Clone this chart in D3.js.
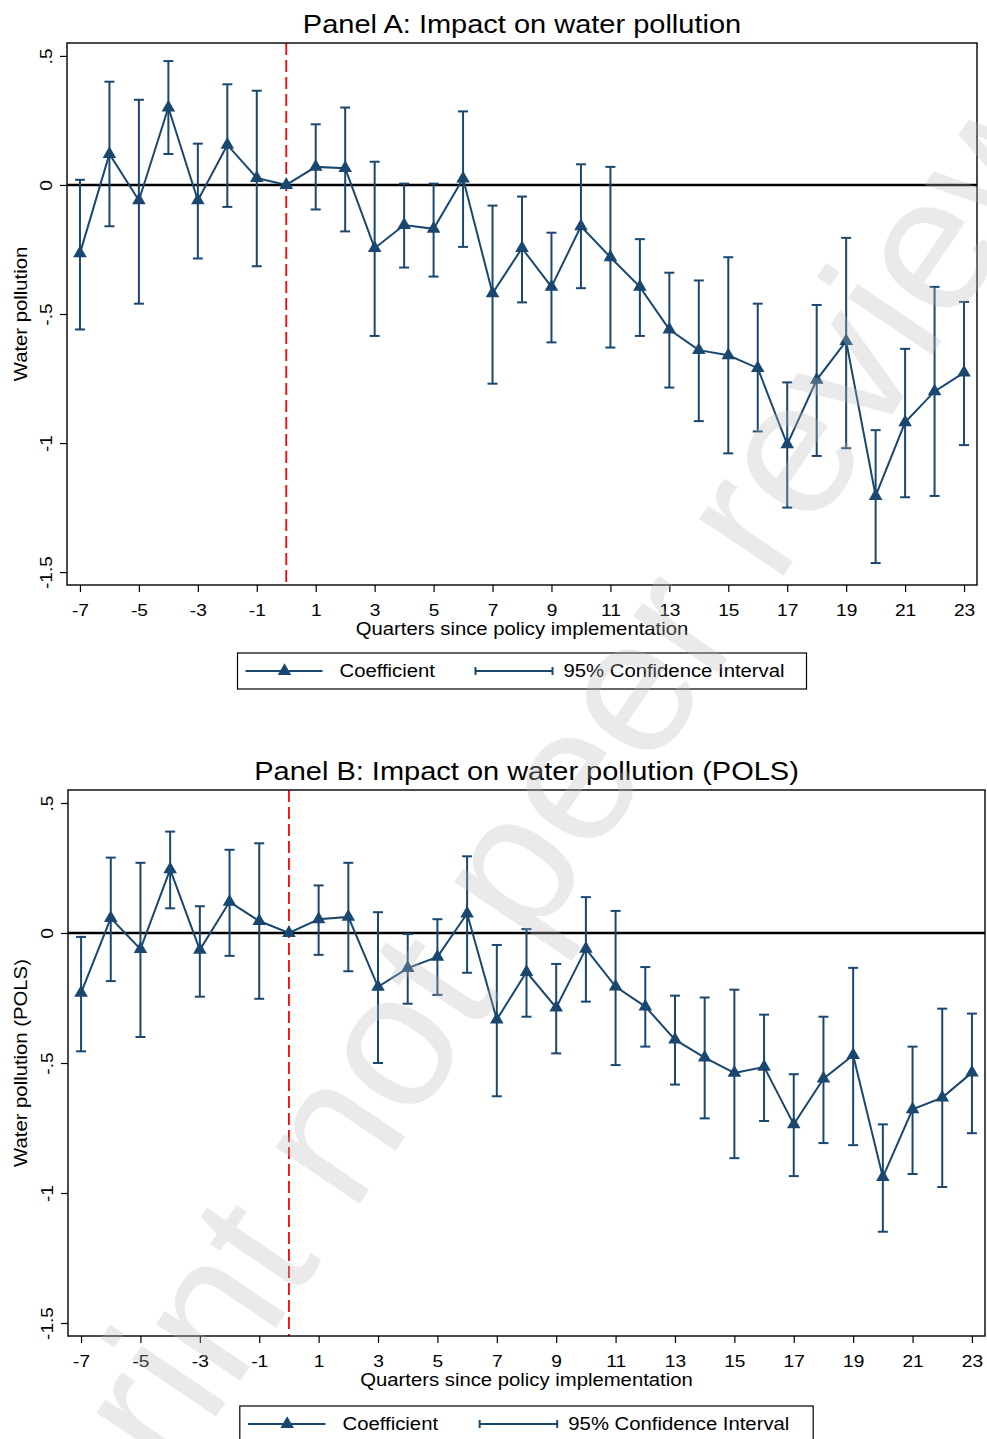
<!DOCTYPE html>
<html><head><meta charset="utf-8">
<script src="https://cdn.jsdelivr.net/npm/d3@7"></script>
<style>
html,body{margin:0;padding:0;background:#fff;}
svg{display:block;font-family:"Liberation Sans",Arial,Helvetica,sans-serif;}
</style>
</head><body>
<svg id="chart" width="987" height="1439"></svg>
<script>
// ---------- data ----------
const quarters = [-7,-6,-5,-4,-3,-2,-1,0,1,2,3,4,5,6,7,8,9,10,11,12,13,14,15,16,17,18,19,20,21,22,23];

// Panel A
const coefA = [-0.265,0.12,-0.06,0.30,-0.06,0.155,0.027,0,0.07,0.065,-0.245,-0.155,-0.17,0.025,-0.42,-0.245,-0.395,-0.16,-0.28,-0.395,-0.56,-0.64,-0.66,-0.71,-1.005,-0.755,-0.605,-1.205,-0.92,-0.80,-0.727];
const loA   = [-0.56,-0.16,-0.46,0.12,-0.285,-0.085,-0.315,null,-0.095,-0.18,-0.585,-0.32,-0.355,-0.24,-0.77,-0.455,-0.61,-0.40,-0.63,-0.585,-0.785,-0.915,-1.04,-0.955,-1.25,-1.05,-1.02,-1.465,-1.21,-1.205,-1.008];
const hiA   = [0.02,0.40,0.33,0.48,0.16,0.39,0.365,null,0.235,0.30,0.09,0.005,0.005,0.285,-0.08,-0.045,-0.185,0.08,0.07,-0.21,-0.34,-0.37,-0.28,-0.46,-0.765,-0.465,-0.205,-0.95,-0.635,-0.395,-0.453];

// Panel B (POLS)
const coefB = [-0.23,0.057,-0.062,0.245,-0.065,0.12,0.046,0,0.053,0.062,-0.207,-0.135,-0.092,0.075,-0.333,-0.15,-0.287,-0.061,-0.206,-0.283,-0.41,-0.479,-0.538,-0.515,-0.736,-0.56,-0.47,-0.939,-0.678,-0.633,-0.537];
const loB   = [-0.455,-0.185,-0.40,0.095,-0.245,-0.088,-0.253,null,-0.084,-0.147,-0.50,-0.272,-0.238,-0.153,-0.628,-0.322,-0.463,-0.264,-0.508,-0.437,-0.583,-0.713,-0.866,-0.723,-0.935,-0.808,-0.816,-1.149,-0.927,-0.977,-0.77];
const hiB   = [-0.015,0.29,0.27,0.39,0.103,0.32,0.345,null,0.183,0.27,0.08,-0.004,0.053,0.295,-0.046,0.015,-0.119,0.138,0.085,-0.131,-0.241,-0.248,-0.218,-0.314,-0.543,-0.322,-0.134,-0.736,-0.437,-0.291,-0.31];

const xTickValues = [-7,-5,-3,-1,1,3,5,7,9,11,13,15,17,19,21,23];
const yTickValues = [0.5,0,-0.5,-1,-1.5];
const yTickLabels = [".5","0","-.5","-1","-1.5"];
const legendLabels = ["Coefficient","95% Confidence Interval"];
const panelTitles = ["Panel A: Impact on water pollution","Panel B: Impact on water pollution (POLS)"];
const yTitles = ["Water pollution","Water pollution (POLS)"];
const xTitle = "Quarters since policy implementation";
const watermarkText = "Preprint not peer reviewed";

// ---------- style / layout ----------
const NAVY = "#1a476f";
const SX = 1.16; // horizontal glyph stretch of the original rendering
const xDomain = [-7.44, 23.44];
const yDomain = [-1.55, 0.55];

const panels = [
  {left:67, right:977, top:43, bottom:585, coef:coefA, lo:loA, hi:hiA, title:panelTitles[0], ytitle:yTitles[0], legendTop:653},
  {left:68, right:985, top:790, bottom:1336, coef:coefB, lo:loB, hi:hiB, title:panelTitles[1], ytitle:yTitles[1], legendTop:1406}
];

const svg = d3.select("#chart");
svg.append("rect").attr("width",987).attr("height",1439).attr("fill","#fff");

function stretchedText(g, x, y, str, size, anchor) {
  return g.append("text")
    .attr("transform", `translate(${x},${y}) scale(${SX},1)`)
    .attr("text-anchor", anchor || "middle")
    .attr("font-size", size)
    .attr("fill", "#000")
    .text(str);
}

panels.forEach(p => {
  const g = svg.append("g");
  const x = d3.scaleLinear().domain(xDomain).range([p.left, p.right]);
  const y = d3.scaleLinear().domain(yDomain).range([p.bottom, p.top]);
  const cx = (p.left + p.right) / 2;
  const cy = (p.top + p.bottom) / 2;

  // title
  stretchedText(g, cx, p.top - 10, p.title, 25);

  // zero line
  g.append("line").attr("x1", p.left).attr("x2", p.right)
    .attr("y1", y(0)).attr("y2", y(0))
    .attr("stroke", "#000").attr("stroke-width", 2.5);

  // policy line
  g.append("line").attr("x1", x(0)).attr("x2", x(0))
    .attr("y1", p.top).attr("y2", p.bottom)
    .attr("stroke", "#ff0000").attr("stroke-width", 1.8)
    .attr("stroke-dasharray", "12,5");

  // data rows
  const rows = quarters.map((q, i) => ({q, c: p.coef[i], lo: p.lo[i], hi: p.hi[i]}));

  // CI caps
  const ci = g.append("g").attr("stroke", NAVY).attr("stroke-width", 2).attr("fill", "none");
  rows.filter(d => d.lo !== null).forEach(d => {
    ci.append("line").attr("x1", x(d.q)).attr("x2", x(d.q)).attr("y1", y(d.lo)).attr("y2", y(d.hi));
    ci.append("line").attr("x1", x(d.q) - 5).attr("x2", x(d.q) + 5).attr("y1", y(d.lo)).attr("y2", y(d.lo));
    ci.append("line").attr("x1", x(d.q) - 5).attr("x2", x(d.q) + 5).attr("y1", y(d.hi)).attr("y2", y(d.hi));
  });

  // coefficient line
  const line = d3.line().x(d => x(d.q)).y(d => y(d.c));
  g.append("path").datum(rows).attr("d", line)
    .attr("fill", "none").attr("stroke", NAVY).attr("stroke-width", 2).attr("stroke-linejoin", "miter");

  // markers
  const tri = d3.symbol(d3.symbolTriangle, 80);
  g.selectAll("path.mk").data(rows).join("path").attr("class", "mk")
    .attr("d", tri).attr("transform", d => `translate(${x(d.q)},${y(d.c)})`)
    .attr("fill", NAVY);

  // plot border
  g.append("rect").attr("x", p.left).attr("y", p.top)
    .attr("width", p.right - p.left).attr("height", p.bottom - p.top)
    .attr("fill", "none").attr("stroke", "#111").attr("stroke-width", 1.5);

  // x axis
  const gx = g.append("g").attr("transform", `translate(0,${p.bottom})`)
    .call(d3.axisBottom(x).tickValues(xTickValues).tickSize(7).tickFormat(d => String(d)));
  gx.attr("font-size", null).attr("font-family", null);
  gx.select(".domain").remove();
  gx.selectAll(".tick line").attr("stroke", "#000").attr("stroke-width", 1.2);
  gx.selectAll(".tick text").attr("y", 31).attr("dy", null)
    .attr("font-size", 16.5).attr("fill", "#000")
    .attr("transform", `scale(${SX},1)`);

  // y axis
  const gy = g.append("g").attr("transform", `translate(${p.left},0)`)
    .call(d3.axisLeft(y).tickValues(yTickValues).tickSize(7).tickFormat((d, i) => yTickLabels[i]));
  gy.attr("font-size", null).attr("font-family", null);
  gy.select(".domain").remove();
  gy.selectAll(".tick line").attr("stroke", "#000").attr("stroke-width", 1.2);
  gy.selectAll(".tick text").attr("x", 0).attr("dy", null)
    .attr("text-anchor", "middle").attr("font-size", 16.5).attr("fill", "#000")
    .attr("transform", `translate(-15,0) rotate(-90) scale(${SX},1)`);

  // axis titles
  stretchedText(g, cx, p.bottom + 50, xTitle, 17.5);
  g.append("text")
    .attr("transform", `translate(27,${cy}) rotate(-90) scale(${SX},1)`)
    .attr("text-anchor", "middle").attr("font-size", 17.5).attr("fill", "#000")
    .text(p.ytitle);

  // legend
  const k = (p.right - p.left) / 910;
  const lw = 569 * k, lh = 36;
  const lx = cx - lw / 2, ly = p.legendTop;
  const lg = g.append("g");
  lg.append("rect").attr("x", lx).attr("y", ly).attr("width", lw).attr("height", lh)
    .attr("fill", "#fff").attr("stroke", "#000").attr("stroke-width", 1.2);
  const my = ly + 18;
  lg.append("line").attr("x1", lx + 8 * k).attr("x2", lx + 85 * k).attr("y1", my).attr("y2", my)
    .attr("stroke", NAVY).attr("stroke-width", 2);
  lg.append("path").attr("d", tri).attr("transform", `translate(${lx + 47 * k},${my})`).attr("fill", NAVY);
  stretchedText(lg, lx + 102 * k, ly + 24, legendLabels[0], 17.5, "start");
  lg.append("line").attr("x1", lx + 238 * k).attr("x2", lx + 315 * k).attr("y1", my).attr("y2", my)
    .attr("stroke", NAVY).attr("stroke-width", 2);
  lg.append("line").attr("x1", lx + 238 * k).attr("x2", lx + 238 * k).attr("y1", my - 4).attr("y2", my + 4)
    .attr("stroke", NAVY).attr("stroke-width", 2);
  lg.append("line").attr("x1", lx + 315 * k).attr("x2", lx + 315 * k).attr("y1", my - 4).attr("y2", my + 4)
    .attr("stroke", NAVY).attr("stroke-width", 2);
  stretchedText(lg, lx + 326 * k, ly + 24, legendLabels[1], 17.5, "start");
});

// watermark
svg.append("text")
  .attr("transform", "translate(576,883) rotate(-56)")
  .attr("text-anchor", "middle")
  .attr("font-size", 192)
  .attr("fill", "#b8b8b8")
  .attr("fill-opacity", 0.3)
  .text(watermarkText);
</script>
</body></html>
